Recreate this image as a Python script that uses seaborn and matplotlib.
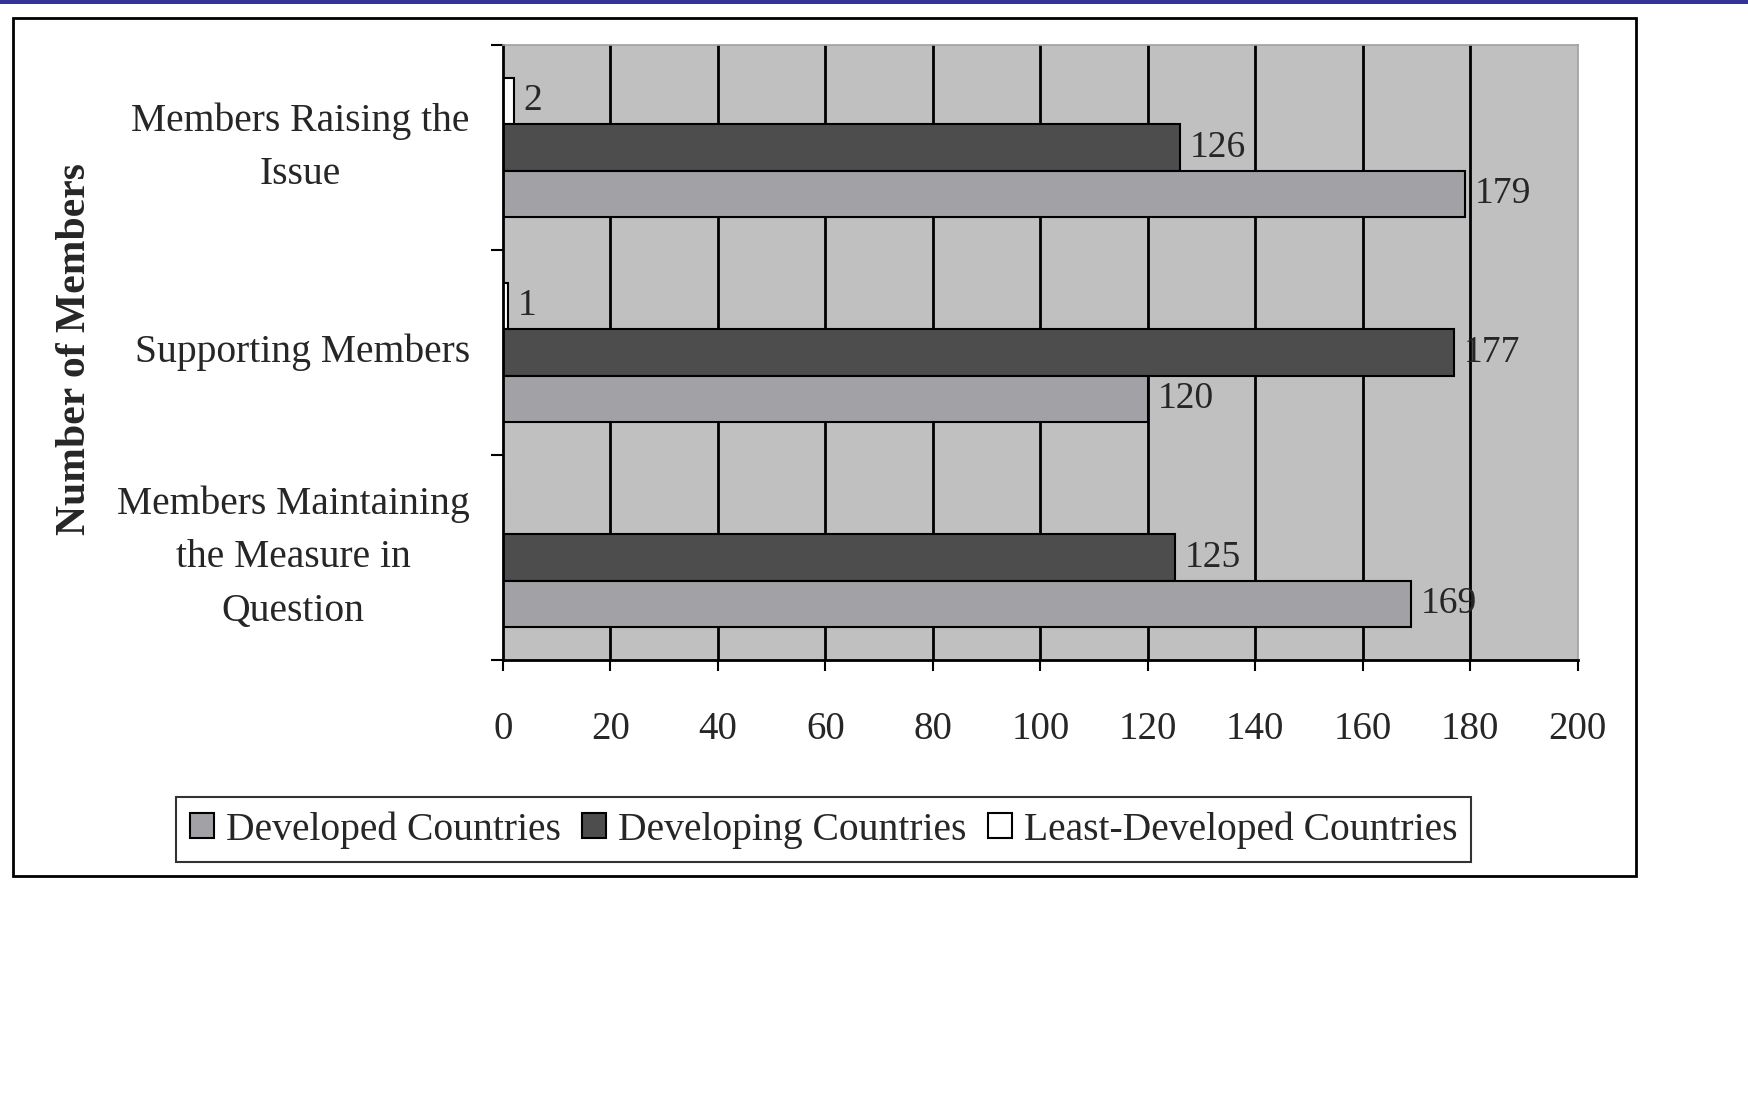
import numpy as np
import pandas as pd
import matplotlib
matplotlib.use('Agg')
import matplotlib.pyplot as plt
from matplotlib.patches import Patch, Rectangle
import seaborn as sns

categories = ['Members Raising the\nIssue', 'Supporting Members',
              'Members Maintaining\nthe Measure in\nQuestion']
developed = [179, 120, 169]
developing = [126, 177, 125]
least_developed = [2, 1, 0]
series_names = ['Developed Countries', 'Developing Countries', 'Least-Developed Countries']
series_colors = {'Developed Countries': '#a2a1a6',
                 'Developing Countries': '#4d4d4d',
                 'Least-Developed Countries': '#ffffff'}
x_ticks = list(range(0, 201, 20))

df = pd.DataFrame({
    'category': categories * 3,
    'group': [series_names[0]] * 3 + [series_names[1]] * 3 + [series_names[2]] * 3,
    'value': developed + developing + least_developed,
})

sns.set_style('white')
plt.rcParams['font.family'] = ['Liberation Serif', 'DejaVu Serif']

fig = plt.figure(figsize=(17.49, 11.02), dpi=100)
ax = fig.add_axes([0.2876, 0.401, 0.6144, 0.558])

# top is least developed, bottom is developed inside each group
hue_order = series_names[::-1]
sns.barplot(data=df, x='value', y='category', hue='group', hue_order=hue_order,
            order=categories, orient='h', palette=series_colors, width=0.68,
            edgecolor='black', linewidth=1.5, saturation=1, legend=False, ax=ax)

vals = {series_names[0]: developed, series_names[1]: developing, series_names[2]: least_developed}
for cont, name in zip(ax.containers, hue_order):
    labels = [str(v) if v > 0 else '' for v in vals[name]]
    ax.bar_label(cont, labels=labels, padding=7, fontsize=27)

ax.set_facecolor('#c0c0c0')
ax.set_xlim(0, 200)
ax.set_ylim(2.5, -0.5)
ax.set_xticks(x_ticks)
ax.set_xticklabels([str(t) for t in x_ticks], fontsize=28)
ax.grid(axis='x', color='black', linewidth=2)
ax.set_axisbelow(True)
ax.get_xgridlines()[-1].set_visible(False)
ax.get_xgridlines()[0].set_visible(False)

ax.set_yticks([-0.5, 0.5, 1.5, 2.5], minor=True)
ax.tick_params(axis='y', which='major', length=0, pad=24)
ax.tick_params(axis='y', which='minor', length=9, width=1.5, direction='out', color='black', left=True)
ax.tick_params(axis='x', length=8, width=1.5, direction='out', color='black', bottom=True, pad=29)
ax.set_yticks(range(len(categories)))
ax.set_yticklabels(categories, fontsize=28.5)
for t in ax.get_yticklabels():
    t.set_multialignment('center')
    t.set_linespacing(1.6)
    t.set_verticalalignment('center')

ax.set_xlabel('')
ax.set_ylabel('')
for s in ['left', 'bottom']:
    ax.spines[s].set_color('black')
    ax.spines[s].set_linewidth(2)
for s in ['top', 'right']:
    ax.spines[s].set_color('#a0a0a0')
    ax.spines[s].set_linewidth(1.2)

fig.text(0.043, 0.683, 'Number of Members', rotation=90, ha='center', va='center',
         fontsize=30, fontweight='bold')

handles = [Patch(facecolor=series_colors[n], edgecolor='black', linewidth=1.5, label=n)
           for n in series_names]
leg = fig.legend(handles=handles, loc='center', bbox_to_anchor=(0.471, 0.247), ncol=3,
                 fontsize=28.5, frameon=True, fancybox=False, handlelength=0.6, handleheight=0.6,
                 handletextpad=0.3, columnspacing=0.55, borderpad=0.35, borderaxespad=0)
leg.get_frame().set_edgecolor('black')
leg.get_frame().set_linewidth(1.5)

# outer chart border and the blue strip on top
fig.add_artist(Rectangle((0.0074, 0.205), 0.928, 0.779, transform=fig.transFigure,
                         fill=False, edgecolor='black', linewidth=2))
fig.add_artist(Rectangle((0, 1 - 3.5 / 1102), 1, 3.5 / 1102, transform=fig.transFigure,
                         facecolor='#333399', edgecolor='none'))

fig.savefig('out.png', dpi=100, facecolor='white')
